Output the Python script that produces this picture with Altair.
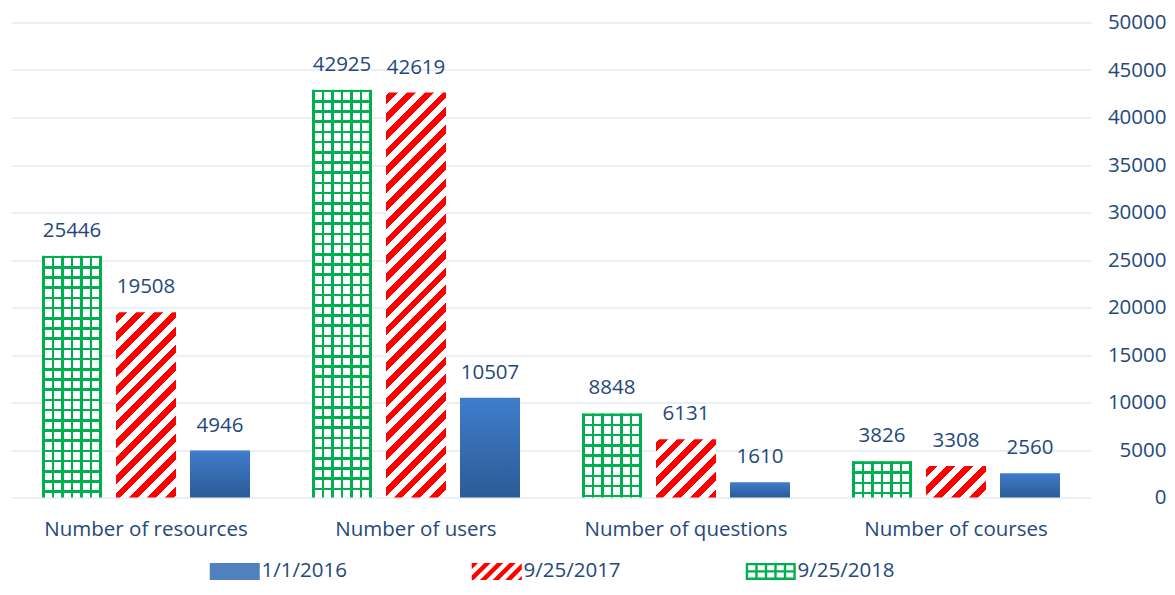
import altair as alt
import pandas as pd

# ---------------- data ----------------
categories = ["Number of resources", "Number of users", "Number of questions", "Number of courses"]
series = ["9/25/2018", "9/25/2017", "1/1/2016"]
values_2018 = [25446, 42925, 8848, 3826]
values_2017 = [19508, 42619, 6131, 3308]
values_2016 = [4946, 10507, 1610, 2560]
y_ticks = [0, 5000, 10000, 15000, 20000, 25000, 30000, 35000, 40000, 45000, 50000]
legend_order = ["1/1/2016", "9/25/2017", "9/25/2018"]

series_values = {"9/25/2018": values_2018, "9/25/2017": values_2017, "1/1/2016": values_2016}
rows = []
for s in series:
    for c, v in zip(categories, series_values[s]):
        rows.append({"category": c, "series": s, "value": v})
df = pd.DataFrame(rows)

# ---------------- styling ----------------
FONT = "Open Sans"
FS = 20.5
TEXT = "#24487C"
GRID = "#D5DFEE"
GREEN = "#00B050"
RED = "#FF0000"
W, H = 1080, 475
YMAX = 50000
STEP = W / len(categories)
BAR_W, GAP = 60.0, 14.0
PAD_INNER = GAP / (BAR_W + GAP)
PAD_OUTER = ((STEP - (3 * BAR_W + 2 * GAP)) / 2) / (BAR_W + GAP)
PAD_L, PAD_T = 3, 14.5
PAD_R = 1159 - PAD_L - W
PAD_B = 575 - PAD_T - H


def band_stops(intervals, L, fg, bg):
    stops = [{"offset": 0, "color": bg}]
    for a, b in intervals:
        a = max(0.0, min(L, a)); b = max(0.0, min(L, b))
        if b <= a:
            continue
        for off, col in ((a, bg), (a, fg), (b, fg), (b, bg)):
            stops.append({"offset": round(off / L, 5), "color": col})
    stops.append({"offset": 1, "color": bg})
    return stops


def grad(stops, x1, y1, x2, y2):
    return alt.LinearGradient(gradient="linear", stops=stops, x1=x1, y1=y1, x2=x2, y2=y2)


LW = 2.6


def green_vertical():
    sp = (BAR_W - LW) / 6
    iv = [(k * sp, k * sp + LW) for k in range(7)]
    return grad(band_stops(iv, BAR_W, GREEN, "#FFFFFF"), 0, 0, 1, 0)


def green_horizontal(h):
    sp = 10.2
    iv = []
    k = 0
    while k * sp < h:
        iv.append((k * sp, k * sp + LW))
        k += 1
    return grad(band_stops(iv, h, GREEN, "rgba(0,176,80,0)"), 0, 0, 0, 1)


def red_diag(h):
    w = BAR_W
    L = w + h
    period, sw = 17.8, 8.8
    iv = []
    k = 0
    while k * period < L:
        iv.append((k * period + 3, k * period + 3 + sw))
        k += 1
    a = (w + h) / (w * w + h * h)
    return grad(band_stops(iv, L, RED, "#FFFFFF"), 0, 0, w * a, h * a)


BLUE_GRAD = grad([{"offset": 0, "color": "#3F7DCB"}, {"offset": 1, "color": "#2C5B97"}], 0, 0, 0, 1)

# ---------------- legend symbol paths ----------------
U = 8.5  # unit size = sqrt(289)/2
HW, HH = 25.0, 8.5


def clip(poly, f):
    out = []
    n = len(poly)
    for i in range(n):
        p, q = poly[i], poly[(i + 1) % n]
        fp, fq = f(p), f(q)
        if fp >= 0:
            out.append(p)
        if (fp >= 0) != (fq >= 0):
            t = fp / (fp - fq)
            out.append((p[0] + t * (q[0] - p[0]), p[1] + t * (q[1] - p[1])))
    return out


def poly_path(poly):
    return "M" + "L".join(f"{x / U:.3f},{y / U:.3f}" for x, y in poly) + "Z"


def rect_path(x0, y0, x1, y1):
    return poly_path([(x0, y0), (x1, y0), (x1, y1), (x0, y1)])


blue_sym = rect_path(-HW, -HH, HW, HH)
red_parts = []
rect = [(-HW, -HH), (HW, -HH), (HW, HH), (-HW, HH)]
c = -HW - HH
while c < HW + HH:
    c0 = c
    p = clip(rect, lambda pt, c0=c0: pt[0] + pt[1] - c0)
    p = clip(p, lambda pt, c0=c0: c0 + 6.3 - (pt[0] + pt[1]))
    if len(p) >= 3:
        red_parts.append(poly_path(p))
    c += 12.6
red_sym = "".join(red_parts)
green_parts = []
for k in range(6):
    x0 = -HW + k * (2 * HW - 2.4) / 5
    green_parts.append(rect_path(x0, -HH, x0 + 2.4, HH))
for yy in (-HH, -1.2, HH - 2.4):
    green_parts.append(rect_path(-HW, yy, HW, yy + 2.4))
green_sym = "".join(green_parts)

# ---------------- encodings ----------------
x_enc = alt.X("category:N", sort=categories,
              scale=alt.Scale(domain=categories, paddingInner=0, paddingOuter=0),
              axis=alt.Axis(title=None, labelAngle=0, ticks=False, tickSize=0, domain=False,
                            labelPadding=22, labelFont=FONT, labelFontSize=FS, labelColor=TEXT,
                            labelLimit=400))
xo_enc = alt.XOffset("series:N", sort=series,
                     scale=alt.Scale(domain=series, paddingInner=PAD_INNER, paddingOuter=PAD_OUTER))
y_enc = alt.Y("value:Q", scale=alt.Scale(domain=[0, YMAX], nice=False),
              axis=alt.Axis(title=None, orient="right", values=y_ticks, format="d", ticks=False,
                            tickSize=0, domain=False, grid=True, gridColor=GRID, gridWidth=1,
                            labelAlign="right", labelPadding=PAD_R - 1, labelFont=FONT, labelFontSize=FS,
                            labelColor=TEXT))

layers = []
for s in series:
    for c_name, v in zip(categories, series_values[s]):
        h = v / YMAX * H
        base = alt.Chart(df).transform_filter(
            (alt.datum.series == s) & (alt.datum.category == c_name))
        if s == "9/25/2018":
            layers.append(base.mark_bar(fill=green_vertical()).encode(x=x_enc, xOffset=xo_enc, y=y_enc))
            layers.append(base.mark_bar(fill=green_horizontal(h)).encode(x=x_enc, xOffset=xo_enc, y=y_enc))
        elif s == "9/25/2017":
            layers.append(base.mark_bar(fill=red_diag(h)).encode(x=x_enc, xOffset=xo_enc, y=y_enc))
        else:
            layers.append(base.mark_bar(fill=BLUE_GRAD).encode(x=x_enc, xOffset=xo_enc, y=y_enc))

labels = alt.Chart(df).mark_text(dy=-25, font=FONT, fontSize=FS, color=TEXT, baseline="middle").encode(
    x=x_enc, xOffset=xo_enc, y=y_enc, text=alt.Text("value:Q", format="d"))
layers.append(labels)

leg = alt.Legend(title=None, orient="none", legendX=213.5, legendY=538.5, direction="horizontal",
                 columnPadding=124, labelOffset=16.5, labelFont=FONT, labelFontSize=FS,
                 labelColor=TEXT, symbolSize=289, symbolStrokeWidth=0, labelLimit=300)
legend_layer = alt.Chart(df).transform_filter("datum.value < 0").mark_point(
    filled=True, opacity=1, size=289).encode(
    x=x_enc, xOffset=xo_enc, y=y_enc,
    color=alt.Color("series:N", scale=alt.Scale(domain=legend_order, range=["#4F81BD", RED, GREEN]), legend=leg),
    shape=alt.Shape("series:N", scale=alt.Scale(domain=legend_order, range=[blue_sym, red_sym, green_sym]), legend=leg),
)
layers.append(legend_layer)

chart = alt.layer(*layers).properties(
    width=W, height=H,
    autosize=alt.AutoSizeParams(type="none"),
    padding={"left": PAD_L, "top": PAD_T, "right": PAD_R, "bottom": PAD_B},
).configure(background="white").configure_view(stroke=None)

chart.save("out.html", embed_options={"renderer": "svg", "actions": False})
